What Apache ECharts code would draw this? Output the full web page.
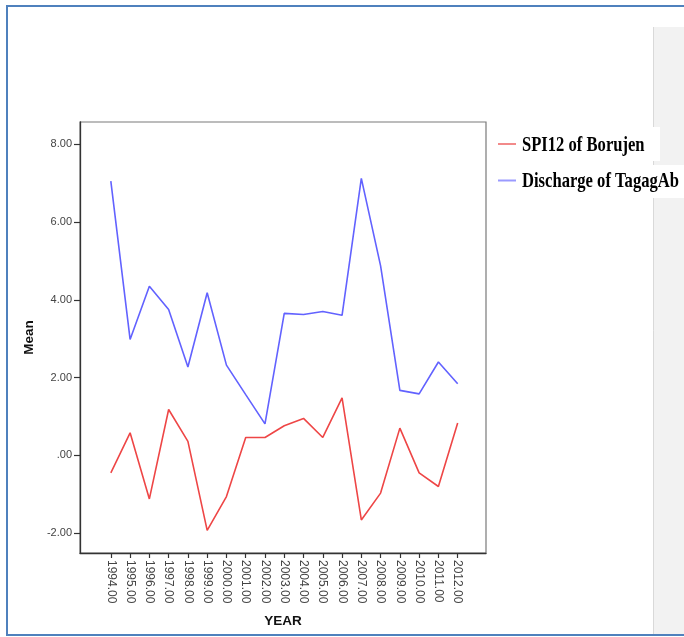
<!DOCTYPE html>
<html>
<head>
<meta charset="utf-8">
<script src="https://cdn.jsdelivr.net/npm/echarts@6/dist/echarts.min.js"></script>
<style>
  html, body { margin: 0; padding: 0; background: #fff; }
  #chart { width: 684px; height: 637px; }
</style>
</head>
<body>
<div id="chart"></div>
<script>
// Yearly means, 1994-2012
const years = [1994, 1995, 1996, 1997, 1998, 1999, 2000, 2001, 2002, 2003,
               2004, 2005, 2006, 2007, 2008, 2009, 2010, 2011, 2012];
const spiBorujen = [-0.45, 0.58, -1.12, 1.18, 0.36, -1.93, -1.06, 0.46, 0.46, 0.76,
                    0.95, 0.46, 1.48, -1.66, -0.97, 0.70, -0.45, -0.80, 0.83];
const dischargeTagagAb = [7.05, 2.98, 4.35, 3.75, 2.27, 4.18, 2.32, 1.56, 0.81, 3.65,
                          3.62, 3.70, 3.60, 7.12, 4.87, 1.67, 1.58, 2.40, 1.84];
const seriesNames = ['SPI12 of Borujen', 'Discharge of TagagAb'];
const yTicks = [-2, 0, 2, 4, 6, 8];

const lineColors = ['#ee4646', '#6262ff'];
const legendColors = ['#f28a8a', '#9a9aff'];

const chart = echarts.init(document.getElementById('chart'), null, { renderer: 'canvas' });

// legend drawn as narrow bold serif entries
const legendRows = [145.5, 182];
const legendGraphics = [];
seriesNames.forEach((name, i) => {
  legendGraphics.push({
    type: 'line',
    shape: { x1: 498, y1: legendRows[i] - 1.5, x2: 516, y2: legendRows[i] - 1.5 },
    style: { stroke: legendColors[i], lineWidth: 2 },
    z: 10
  });
  legendGraphics.push({
    type: 'text',
    x: 522, y: legendRows[i],
    scaleX: 0.79,
    style: {
      text: name, x: 0, y: 0,
      font: 'bold 21px "Liberation Serif", "Times New Roman", serif',
      fill: '#000', verticalAlign: 'middle', align: 'left'
    },
    z: 10
  });
});

const option = {
  animation: false,
  backgroundColor: '#fff',
  grid: {
    left: 80, top: 122, width: 406, height: 431,
    show: true, borderColor: '#7a7a7a', borderWidth: 1.2, backgroundColor: 'transparent'
  },
  xAxis: {
    type: 'value',
    min: 1992.4, max: 2013.47,
    name: 'YEAR',
    nameLocation: 'middle',
    nameGap: 61,
    nameTextStyle: { fontFamily: 'Arial, "Liberation Sans", sans-serif', fontWeight: 'bold', fontSize: 13.5, color: '#111' },
    axisLine: { show: true, onZero: false, lineStyle: { color: '#333', width: 1.3 } },
    axisTick: { show: true, length: 5, customValues: years, lineStyle: { color: '#333', width: 1.2 } },
    axisLabel: {
      customValues: years,
      rotate: -90,
      margin: 7,
      fontFamily: 'Arial, "Liberation Sans", sans-serif',
      fontSize: 12,
      color: '#444',
      formatter: v => Number(v).toFixed(2)
    },
    splitLine: { show: false }
  },
  yAxis: {
    type: 'value',
    min: -2.51, max: 8.57,
    name: 'Mean',
    nameLocation: 'middle',
    nameGap: 41,
    nameTextStyle: { fontFamily: 'Arial, "Liberation Sans", sans-serif', fontWeight: 'bold', fontSize: 13.5, color: '#111' },
    axisLine: { show: true, onZero: false, lineStyle: { color: '#333', width: 1.3 } },
    axisTick: { show: true, length: 6, customValues: yTicks, lineStyle: { color: '#333', width: 1.2 } },
    axisLabel: {
      customValues: yTicks,
      margin: 8,
      fontFamily: 'Arial, "Liberation Sans", sans-serif',
      fontSize: 11,
      color: '#444',
      formatter: v => (Number(v) === 0 ? '.00' : Number(v).toFixed(2))
    },
    splitLine: { show: false }
  },
  series: [
    {
      name: seriesNames[0],
      type: 'line',
      data: years.map((y, i) => [y, spiBorujen[i]]),
      showSymbol: false,
      symbol: 'none',
      lineStyle: { color: lineColors[0], width: 1.6 },
      itemStyle: { color: lineColors[0] }
    },
    {
      name: seriesNames[1],
      type: 'line',
      data: years.map((y, i) => [y, dischargeTagagAb[i]]),
      showSymbol: false,
      symbol: 'none',
      lineStyle: { color: lineColors[1], width: 1.6 },
      itemStyle: { color: lineColors[1] }
    }
  ],
  graphic: [
    // grey side panel
    { type: 'rect', shape: { x: 653, y: 27, width: 31, height: 607 }, style: { fill: '#f2f2f2' }, z: 1 },
    { type: 'line', shape: { x1: 653.5, y1: 27, x2: 653.5, y2: 634 }, style: { stroke: '#d9d9d9', lineWidth: 1 }, z: 1 },
    // white backing behind the legend entries
    { type: 'rect', shape: { x: 490, y: 127, width: 170, height: 34 }, style: { fill: '#fff' }, z: 2 },
    { type: 'rect', shape: { x: 490, y: 165, width: 194, height: 33 }, style: { fill: '#fff' }, z: 2 },
    // blue frame
    { type: 'polyline', shape: { points: [[684, 6], [7, 6], [7, 635], [684, 635]] }, style: { stroke: '#4f81bd', lineWidth: 2, fill: null }, z: 3 }
  ].concat(legendGraphics)
};

chart.setOption(option);
</script>
</body>
</html>
